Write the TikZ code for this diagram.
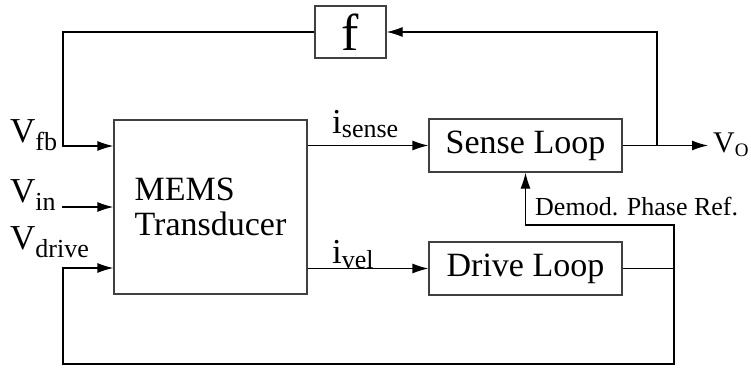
\documentclass[tikz,border=0pt]{standalone}
\usepackage{fontspec}
\setmainfont{Liberation Serif}
\usetikzlibrary{arrows.meta,calc,positioning}

\newcommand{\lsub}[3][8pt]{#2\raisebox{-#1}{\fontsize{26}{26}\selectfont #3}}

\begin{document}
\begin{tikzpicture}[x=1pt,y=-1pt,
		blockbox/.style={draw=black!75,line width=1.2pt,minimum width=193pt,minimum height=53pt,inner sep=0pt,font=\fontsize{34}{35}\selectfont},
		sig/.style={line width=1.2pt,-{Latex[length=16pt,width=10pt]}},
		wire/.style={line width=1.2pt},
		lbl/.style={anchor=base west,inner sep=0pt,font=\fontsize{35}{35}\selectfont}
		]
		\useasboundingbox (0,0) rectangle (751,367);

		% blocks
		\node[blockbox,minimum width=71pt,minimum height=52pt,font=\fontsize{52}{52}\selectfont](F) at (350.5,32){f};
		\node[blockbox,minimum height=174pt,align=left](M) at (210.5,207){MEMS\\Transducer};
		\node[blockbox](S) at (525.5,145.5){Sense Loop};
		\node[blockbox](D) at (525.5,268.5){Drive Loop};

		% corners and taps
		\coordinate (fbL) at (63,32);
		\coordinate (fbM) at ($(M.west)+(0,-61)$);
		\coordinate (drM) at ($(M.west)+(0,61)$);
		\coordinate (inL) at (62,207);
		\coordinate (oTap) at (657,145.5);
		\coordinate (vo) at (708,145.5);
		\coordinate (dTap) at (674,268.5);
		\coordinate (dRef) at (674,225);
		\coordinate (bL) at (63,364);

		% connections
		\draw[sig] (F.west) -- (fbL) |- (fbM);
		\draw[sig] (inL) -- (M.west);
		\draw[sig] (M.east |- S.west) -- (S.west);
		\draw[sig] (M.east |- D.west) -- (D.west);
		\draw[sig] (S.east) -- (vo);
		\draw[sig] (oTap) |- (F.east);
		\draw[wire] (D.east) -- (dTap);
		\draw[sig] (dTap) -- (dRef) -| (S.south);
		\draw[sig] (dTap) |- (bL) -- (bL |- drM) -- (drM);

		% labels
		\node[lbl](vfb) at (10,142){\lsub{V}{fb}};
		\node[lbl](vin) at (10,202){\lsub{V}{in}};
		\node[lbl](vdr) at (10,249){\lsub{V}{drive}};
		\node[lbl](isn) at (332,133){\lsub[4pt]{i}{sense}};
		\node[lbl](ivl) at (332,263){\lsub[5pt]{i}{vel}};
		\node[lbl,font=\fontsize{30}{30}\selectfont](voL) at (713,152){V\raisebox{-4pt}{\fontsize{19}{19}\selectfont O}};
		\node[lbl,font=\fontsize{26}{26}\selectfont](dmr) at (535,215){Demod. Phase Ref.};
	\end{tikzpicture}
\end{document}
